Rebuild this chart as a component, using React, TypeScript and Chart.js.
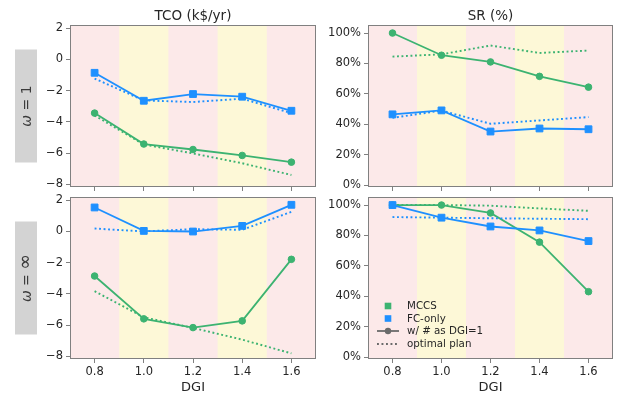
import React, { useEffect, useRef } from "react";
import { Chart, registerables } from "chart.js";
Chart.register(...registerables);

// ---------- data ----------
const dgi = [0.8, 1.0, 1.2, 1.4, 1.6];
const xTicks = [0.8, 1.0, 1.2, 1.4, 1.6];
const tcoTicks = [-8, -6, -4, -2, 0, 2];
const srTicks = [0, 20, 40, 60, 80, 100];
const yellowBands = [
  [0.9, 1.1],
  [1.3, 1.5],
];
const colTitles = ["TCO (k$/yr)", "SR (%)"];
const rowLabels = ["1", "∞"];
const legendLabels = ["MCCS", "FC-only", "w/ # as DGI=1", "optimal plan"];

// omega = 1
const tcoW1Mccs = [-3.44, -5.42, -5.77, -6.15, -6.58];
const tcoW1MccsOpt = [-3.59, -5.45, -6.02, -6.65, -7.4];
const tcoW1Fc = [-0.86, -2.65, -2.22, -2.39, -3.29];
const tcoW1FcOpt = [-1.23, -2.63, -2.73, -2.52, -3.44];
const srW1Mccs = [100, 85.4, 81, 71.5, 64.4];
const srW1MccsOpt = [84.5, 86, 91.8, 86.9, 88.5];
const srW1Fc = [46.5, 49.1, 35.2, 37.2, 36.7];
const srW1FcOpt = [44.2, 49, 40.3, 42.5, 44.7];
// omega = inf
const tcoWinfMccs = [-2.86, -5.6, -6.16, -5.73, -1.79];
const tcoWinfMccsOpt = [-3.83, -5.5, -6.18, -6.93, -7.81];
const tcoWinfFc = [1.53, 0.03, -0.01, 0.35, 1.7];
const tcoWinfFcOpt = [0.18, 0.0, 0.14, 0.1, 1.25];
const srWinfMccs = [100, 100, 94.8, 75.6, 43];
const srWinfMccsOpt = [100, 100, 99.6, 97.8, 96.2];
const srWinfFc = [100, 91.7, 85.9, 83.3, 76.3];
const srWinfFcOpt = [92.1, 91.7, 91.3, 91, 90.7];

// ---------- style ----------
const W = 621;
const H = 394;
const GREEN = "#3cb371";
const BLUE = "#1e90ff";
const GRAY = "#6a6a6a";
const PINK = "#fce9e9";
const YELLOW = "#fdf8d7";
const SPINE = "#808080";
const TXT = "#262626";
const FONT = "'DejaVu Sans', sans-serif";
const YW = 40;
const XH = 20;

type PanelDef = {
  box: [number, number, number, number];
  kind: "tco" | "sr";
  mccs: number[];
  mccsOpt: number[];
  fc: number[];
  fcOpt: number[];
  showX: boolean;
  title?: string;
  row?: string;
  legend?: boolean;
};

const pts = (vals: number[]) => dgi.map((x, i) => ({ x, y: vals[i] }));

const solid = (label: string, vals: number[], color: string, style: string) => ({
  label,
  data: pts(vals),
  borderColor: color,
  backgroundColor: color,
  borderWidth: 1.8,
  pointStyle: style,
  pointRadius: style === "rect" ? 4.8 : 3.3,
  pointBorderWidth: 1,
  pointBorderColor: color,
  pointBackgroundColor: color,
  fill: false,
  tension: 0,
});

const dotted = (label: string, vals: number[], color: string) => ({
  label,
  data: pts(vals),
  borderColor: color,
  backgroundColor: color,
  borderWidth: 1.9,
  borderDash: [1.9, 2.6],
  borderCapStyle: "butt",
  pointRadius: 0,
  fill: false,
  tension: 0,
});

const deco = {
  id: "deco",
  beforeDatasetsDraw(chart: any, _a: any, opts: any) {
    const { ctx, chartArea: a } = chart;
    const x = chart.scales.x;
    ctx.save();
    ctx.fillStyle = PINK;
    ctx.fillRect(a.left, a.top, a.right - a.left, a.bottom - a.top);
    ctx.fillStyle = YELLOW;
    for (const [b0, b1] of yellowBands) {
      const p0 = x.getPixelForValue(b0);
      const p1 = x.getPixelForValue(b1);
      ctx.fillRect(p0, a.top, p1 - p0, a.bottom - a.top);
    }
    ctx.restore();
  },
  afterDraw(chart: any, _a: any, opts: any) {
    const { ctx, chartArea: a } = chart;
    const cx = (a.left + a.right) / 2;
    const cy = (a.top + a.bottom) / 2;
    ctx.save();
    // frame
    ctx.strokeStyle = SPINE;
    ctx.lineWidth = 1;
    ctx.strokeRect(a.left + 0.5, a.top + 0.5, a.right - a.left - 1, a.bottom - a.top - 1);
    ctx.fillStyle = TXT;
    // title
    if (opts.title) {
      ctx.font = `13.5px ${FONT}`;
      ctx.textAlign = "center";
      ctx.textBaseline = "alphabetic";
      ctx.fillText(opts.title, cx, a.top - 5);
    }
    // x label
    if (opts.showX) {
      ctx.font = `13px ${FONT}`;
      ctx.textAlign = "center";
      ctx.textBaseline = "alphabetic";
      ctx.fillText("DGI", cx, a.bottom + 32);
    }
    // row label
    if (opts.row) {
      ctx.fillStyle = "#d3d3d3";
      ctx.fillRect(15, cy - 56.5, 22, 113);
      ctx.translate(27, cy);
      ctx.rotate(-Math.PI / 2);
      ctx.fillStyle = "#3a3a3a";
      ctx.textBaseline = "middle";
      ctx.textAlign = "left";
      const fi = `italic 14px ${FONT}`;
      const fn = `14px ${FONT}`;
      const fv = opts.row === "∞" ? `19px ${FONT}` : fn;
      const eq = " = ";
      ctx.font = fi;
      const w1 = ctx.measureText("ω").width;
      ctx.font = fn;
      const w2 = ctx.measureText(eq).width;
      ctx.font = fv;
      const w3 = ctx.measureText(opts.row).width;
      const start = -(w1 + w2 + w3) / 2;
      ctx.font = fi;
      ctx.fillText("ω", start, 0);
      ctx.font = fn;
      ctx.fillText(eq, start + w1, 0);
      ctx.font = fv;
      ctx.fillText(opts.row, start + w1 + w2, opts.row === "∞" ? -0.5 : 0);
      ctx.setTransform(1, 0, 0, 1, 0, 0);
    }
    // legend
    if (opts.legend) {
      const lx = a.left + 20;
      const tx = a.left + 39;
      const rows = [a.top + 109, a.top + 121.5, a.top + 134, a.top + 147];
      ctx.font = `10.3px ${FONT}`;
      ctx.textAlign = "left";
      ctx.textBaseline = "middle";
      ctx.fillStyle = GREEN;
      ctx.fillRect(lx - 3.3, rows[0] - 3.3, 6.6, 6.6);
      ctx.fillStyle = BLUE;
      ctx.fillRect(lx - 3.3, rows[1] - 3.3, 6.6, 6.6);
      ctx.strokeStyle = GRAY;
      ctx.lineWidth = 1.8;
      ctx.beginPath();
      ctx.moveTo(lx - 11, rows[2]);
      ctx.lineTo(lx + 11, rows[2]);
      ctx.stroke();
      ctx.fillStyle = GRAY;
      ctx.beginPath();
      ctx.arc(lx, rows[2], 3.2, 0, Math.PI * 2);
      ctx.fill();
      ctx.lineWidth = 1.9;
      ctx.setLineDash([1.9, 2.6]);
      ctx.beginPath();
      ctx.moveTo(lx - 11, rows[3]);
      ctx.lineTo(lx + 11, rows[3]);
      ctx.stroke();
      ctx.setLineDash([]);
      ctx.fillStyle = TXT;
      legendLabels.forEach((t, i) => ctx.fillText(t, tx, rows[i] + 0.5));
    }
    ctx.restore();
  },
};

function buildConfig(p: PanelDef): any {
  const [l, t, r, b] = p.box;
  const isTco = p.kind === "tco";
  return {
    type: "line",
    data: {
      datasets: [
        solid("FC-only", p.fc, BLUE, "rect"),
        dotted("FC-only opt", p.fcOpt, BLUE),
        solid("MCCS", p.mccs, GREEN, "circle"),
        dotted("MCCS opt", p.mccsOpt, GREEN),
      ],
    },
    plugins: [deco],
    options: {
      responsive: false,
      maintainAspectRatio: false,
      animation: false,
      devicePixelRatio: 1,
      events: [],
      layout: {
        padding: { left: l - YW, top: t, right: W - r, bottom: H - b - XH },
      },
      plugins: {
        legend: { display: false },
        tooltip: { enabled: false },
        title: { display: false },
        deco: { title: p.title, showX: p.showX, row: p.row, legend: p.legend },
      },
      scales: {
        x: {
          type: "linear",
          min: 0.7,
          max: 1.7,
          afterBuildTicks: (s: any) => {
            s.ticks = xTicks.map((v) => ({ value: v }));
          },
          afterFit: (s: any) => {
            s.height = XH;
          },
          border: { display: false },
          grid: {
            drawOnChartArea: false,
            drawTicks: true,
            tickLength: 4,
            color: SPINE,
            tickColor: SPINE,
            tickWidth: 1,
          },
          ticks: {
            color: TXT,
            font: { family: FONT, size: 11.5 },
            padding: 2,
            maxRotation: 0,
            autoSkip: false,
            callback: (v: any) => (p.showX ? Number(v).toFixed(1) : ""),
          },
        },
        y: {
          type: "linear",
          min: isTco ? -8.17 : -1.3,
          max: isTco ? 2.2 : 105.3,
          afterBuildTicks: (s: any) => {
            s.ticks = (isTco ? tcoTicks : srTicks).map((v) => ({ value: v }));
          },
          afterFit: (s: any) => {
            s.width = YW;
          },
          border: { display: false },
          grid: {
            drawOnChartArea: false,
            drawTicks: true,
            tickLength: 4,
            color: SPINE,
            tickColor: SPINE,
            tickWidth: 1,
          },
          ticks: {
            color: TXT,
            font: { family: FONT, size: 11.5 },
            padding: 3,
            autoSkip: false,
            callback: (v: any) => {
              const n = Number(v);
              if (isTco) return n < 0 ? "\u2212" + Math.abs(n) : String(n);
              return n + "%";
            },
          },
        },
      },
    },
  };
}

const panels: PanelDef[] = [
  { box: [70, 25, 316, 187], kind: "tco", mccs: tcoW1Mccs, mccsOpt: tcoW1MccsOpt, fc: tcoW1Fc, fcOpt: tcoW1FcOpt, showX: false, title: colTitles[0], row: rowLabels[0] },
  { box: [368, 25, 613, 187], kind: "sr", mccs: srW1Mccs, mccsOpt: srW1MccsOpt, fc: srW1Fc, fcOpt: srW1FcOpt, showX: false, title: colTitles[1] },
  { box: [70, 197, 316, 359], kind: "tco", mccs: tcoWinfMccs, mccsOpt: tcoWinfMccsOpt, fc: tcoWinfFc, fcOpt: tcoWinfFcOpt, showX: true, row: rowLabels[1] },
  { box: [368, 197, 613, 359], kind: "sr", mccs: srWinfMccs, mccsOpt: srWinfMccsOpt, fc: srWinfFc, fcOpt: srWinfFcOpt, showX: true, legend: true },
];

function Panel({ def }: { def: PanelDef }) {
  const ref = useRef<HTMLCanvasElement | null>(null);
  useEffect(() => {
    if (!ref.current) return;
    const chart = new Chart(ref.current, buildConfig(def));
    return () => chart.destroy();
  }, [def]);
  return (
    <canvas
      ref={ref}
      width={W}
      height={H}
      style={{ position: "absolute", left: 0, top: 0, width: W, height: H }}
    />
  );
}

export default function App() {
  return (
    <div style={{ position: "fixed", left: 0, top: 0, width: W, height: H, background: "#ffffff", overflow: "hidden" }}>
      {panels.map((p, i) => (
        <Panel key={i} def={p} />
      ))}
    </div>
  );
}
